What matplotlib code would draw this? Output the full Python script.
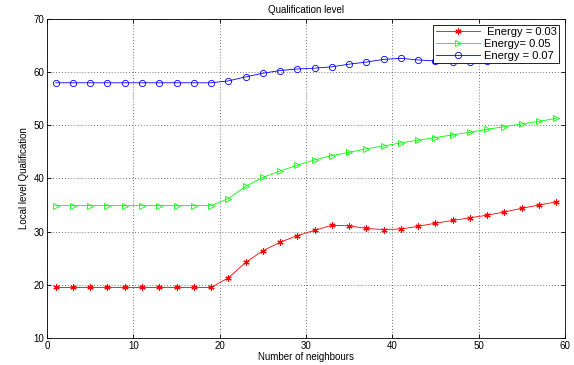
import matplotlib
matplotlib.use("Agg")
import matplotlib.pyplot as plt
import numpy as np

x = np.arange(1, 60, 2)

red = [19.5, 19.5, 19.5, 19.5, 19.5, 19.5, 19.5, 19.5, 19.5, 19.5,
       21.3, 24.2, 26.4, 28.0, 29.25, 30.25, 31.2, 31.1, 30.6, 30.4,
       30.5, 31.0, 31.6, 32.1, 32.6, 33.1, 33.7, 34.4, 35.0, 35.6]
green = [34.9, 34.9, 34.9, 34.9, 34.9, 34.9, 34.9, 34.9, 34.9, 34.9,
         36.2, 38.5, 40.2, 41.4, 42.5, 43.5, 44.3, 44.9, 45.6, 46.1,
         46.7, 47.2, 47.7, 48.2, 48.7, 49.25, 49.75, 50.25, 50.75, 51.3]
blue = [58.0, 58.0, 58.0, 58.0, 58.0, 58.0, 58.0, 58.0, 58.0, 58.0,
        58.35, 59.1, 59.8, 60.3, 60.6, 60.75, 61.0, 61.5, 61.9, 62.4,
        62.6, 62.3, 62.1, 62.0, 62.0, 62.1, 62.2, 62.3, 62.4, 62.5]

plt.rcParams['font.family'] = ['Liberation Sans', 'DejaVu Sans']
plt.rcParams['font.size'] = 7

fig = plt.figure(figsize=(5.74, 3.65), dpi=100)
ax = fig.add_axes([0.082, 0.074, 0.902, 0.874])

ax.plot(x, red, "-", color="red", lw=0.6, marker=(6, 2, 0), ms=4.5, mew=0.8,
        label=" Energy = 0.03")
ax.plot(x, green, "-", color="#00ff00", lw=0.6, marker=">", ms=4.5, mfc="none",
        mew=0.6, label="Energy= 0.05")
ax.plot(x, blue, "-", color="blue", lw=0.6, marker="o", ms=4.5, mfc="none",
        mew=0.6, label="Energy = 0.07")

ax.set_xlim(0, 60)
ax.set_ylim(10, 70)
ax.set_xticks(range(0, 61, 10))
ax.set_yticks(range(10, 71, 10))
ax.grid(True, color="#444444", linestyle=(0, (1, 2.5)), linewidth=0.6)
ax.tick_params(direction="in", top=True, right=True, length=3, width=0.6, pad=2)
for s in ax.spines.values():
    s.set_linewidth(0.6)

ax.set_title("Qualification level", fontsize=7, pad=4)
ax.set_xlabel("Number of neighbours", fontsize=7, labelpad=1)
ax.set_ylabel("Local level Qualification", fontsize=7, labelpad=3)

leg = ax.legend(loc="upper right", fontsize=8, fancybox=False, framealpha=1,
                edgecolor="black", borderaxespad=0.5, handlelength=4,
                handletextpad=0.3, borderpad=0.25, labelspacing=0.15)
leg.get_frame().set_linewidth(0.6)

fig.savefig("out.png", dpi=100)
